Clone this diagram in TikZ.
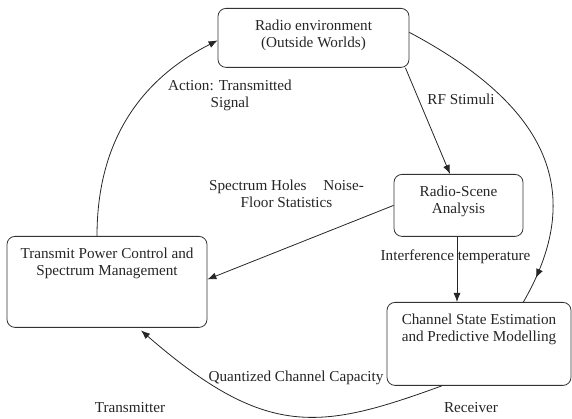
\documentclass[tikz,border=0pt]{standalone}
\usepackage{fontspec}
\setmainfont{Liberation Serif}
\usetikzlibrary{arrows, arrows.meta, decorations.markings}

\begin{document}
\begin{tikzpicture}[x=1pt, y=1pt, >={Latex[length=9pt, width=7pt]},
	every node/.style={font=\fontsize{15.2}{17}\selectfont, text=black!85},
	box/.style={draw=black!80, line width=0.8pt, rounded corners=8pt, inner sep=0pt, align=center, text height=39.5pt, anchor=north},
	lbl/.style={align=center, inner sep=0pt},
	link/.style={draw=black!85, line width=0.8pt}]
	\useasboundingbox (0,0) rectangle (572,419);
		%boxes
			\node [box, minimum width=191pt, text depth=19.5pt] (env) at (313.5,411) {Radio environment\\(Outside Worlds)};
			\node [box, minimum width=129pt, text depth=22.5pt] (rsa) at (458.5,245) {Radio-Scene\\Analysis};
			\node [box, minimum width=200pt, text depth=51.5pt] (tpc) at (107,183) {Transmit Power Control and\\Spectrum Management};
			\node [box, minimum width=184pt, text depth=43.5pt] (cse) at (479,117) {Channel State Estimation\\and Predictive Modelling};
		%labels
			\node [lbl] (act) at (230,324) {Action: Transmitted\\Signal};
			\node [lbl] (rf) at (461,320) {RF Stimuli};
			\node [lbl] (holes) at (286.5,225) {Spectrum Holes\hspace{13pt} Noise-\\Floor Statistics};
			\node [lbl] (itemp) at (455.5,162) {Interference temperature};
			\node [lbl] (qcc) at (296,41) {Quantized Channel Capacity};
			\node [lbl] (tx) at (130,11) {Transmitter};
			\node [lbl] (rx) at (471,11) {Receiver};
		%straight arrows
			\draw [link, ->] ([xshift=-4pt]env.south east) to ([xshift=-8.5pt]rsa.north);
			\draw [link, ->] (rsa.west) to ([yshift=2.5pt]tpc.east);
			\draw [link, ->] ([xshift=-1.5pt]rsa.south) to ([xshift=-1.5pt]rsa.south |- cse.north);
		%outer loop
			\draw [link, decoration={markings, mark=at position 0.92 with {\arrow{>}}}, postaction={decorate}] ([yshift=5.5pt]env.east) to [out=-28, in=60, out distance=160pt, in distance=125pt] ([xshift=-48pt]cse.north east);
			\draw [link, ->, shorten >=4pt] ([xshift=-37pt]cse.south) to [out=200, in=-41, out distance=130pt, in distance=170pt] ([xshift=31pt]tpc.south);
			\draw [link, ->] ([xshift=-10pt]tpc.north) to [out=90, in=-153, out distance=110pt, in distance=70pt] ([yshift=-2.5pt]env.west);
\end{tikzpicture}
\end{document}
